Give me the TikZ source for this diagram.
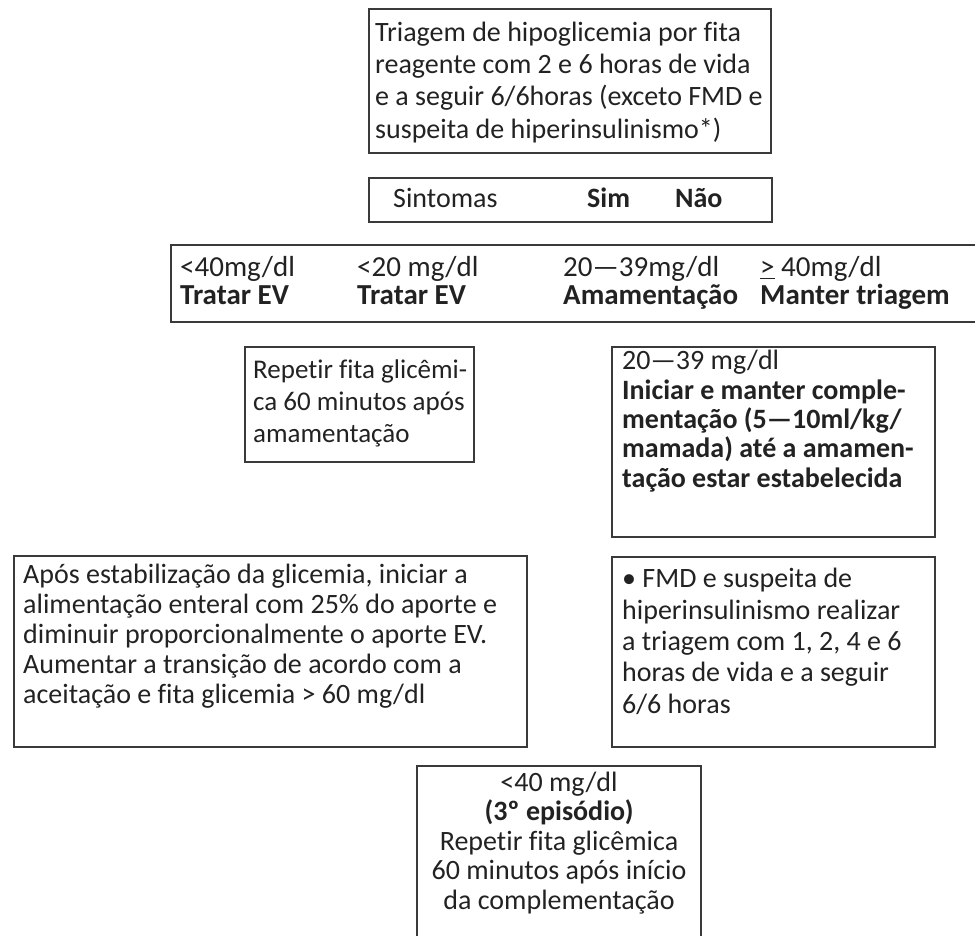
\documentclass[tikz,border=0pt]{standalone}
\usepackage{fontspec}
\setmainfont{Carlito}[Ligatures=NoCommon]
\definecolor{ink}{HTML}{222222}
\definecolor{frame}{HTML}{3A3A3A}
\tikzset{
  box/.style={draw=frame, line width=1.4pt},
  txt/.style={anchor=base west, inner sep=0pt, align=left, text=ink},
  ctxt/.style={anchor=base, inner sep=0pt, align=center, text=ink},
  fs/.style={font=\fontsize{28}{#1}\selectfont},
  fsb/.style={font=\fontsize{29}{#1}\selectfont},
  fss/.style={font=\fontsize{27}{#1}\selectfont}
}
\begin{document}
\begin{tikzpicture}[x=1pt,y=-1pt]
\useasboundingbox (0,0) rectangle (975,935);
\clip (0,0) rectangle (975,935);
% top box (anchor = last baseline)
\draw[box] (369,9) rectangle (771,153);
\node[txt,fs=32.3] (t1) at (375,138) {Triagem de hipoglicemia por fita\\reagente com 2 e 6 horas de vida\\e a seguir 6/6horas (exceto FMD e\\suspeita de hiperinsulinismo*)};
% sintomas
\draw[box] (369,178) rectangle (772,222);
\node[txt,fs=30] (s1) at (393,207) {Sintomas};
\node[txt,fs=30] (s2) at (587,207) {\textbf{Sim}};
\node[txt,fs=30] (s3) at (675,207) {\textbf{Não}};
% thresholds
\draw[box] (171,245) rectangle (990,322);
\node[txt,fsb=27.5] (c1) at (180,304) {<40mg/dl\\\textbf{Tratar EV}};
\node[txt,fsb=27.5] (c2) at (357,304) {<20 mg/dl\\\textbf{Tratar EV}};
\node[txt,fsb=27.5] (c3) at (563,304) {20—39mg/dl\\\textbf{Amamentação}};
\node[txt,fsb=27.5] (c4) at (760,304) {\underline{>} 40mg/dl\\\textbf{Manter triagem}};
% repetir
\draw[box] (245,347) rectangle (474,462);
\node[txt,fss=32] (r1) at (253,442) {Repetir fita glicêmi-\\ca 60 minutos após\\amamentação};
% right 1
\draw[box] (612,347) rectangle (935,537);
\node[txt,fs=29.3] (r2) at (622,487) {20—39 mg/dl\\\textbf{Iniciar e manter comple-}\\\textbf{mentação (5—10ml/kg/}\\\textbf{mamada) até a amamen-}\\\textbf{tação estar estabelecida}};
% left bottom
\draw[box] (14,556) rectangle (527,747);
\node[txt,fs=30] (l1) at (23,703) {Após estabilização da glicemia, iniciar a\\alimentação enteral com 25\% do aporte e\\diminuir proporcionalmente o aporte EV.\\Aumentar a transição de acordo com a\\aceitação e fita glicemia > 60 mg/dl};
% FMD
\draw[box] (612,557) rectangle (935,747);
\node[txt,fs=31.3] (f1) at (622,713) {• FMD e suspeita de\\hiperinsulinismo realizar\\a triagem com 1, 2, 4 e 6\\horas de vida e a seguir\\6/6 horas};
% bottom
\draw[box] (417,766) rectangle (701,950);
\node[ctxt,fs=29.5] (b1) at (559,909) {<40 mg/dl\\\textbf{(3º episódio)}\\Repetir fita glicêmica\\60 minutos após início\\da complementação};
\end{tikzpicture}
\end{document}
